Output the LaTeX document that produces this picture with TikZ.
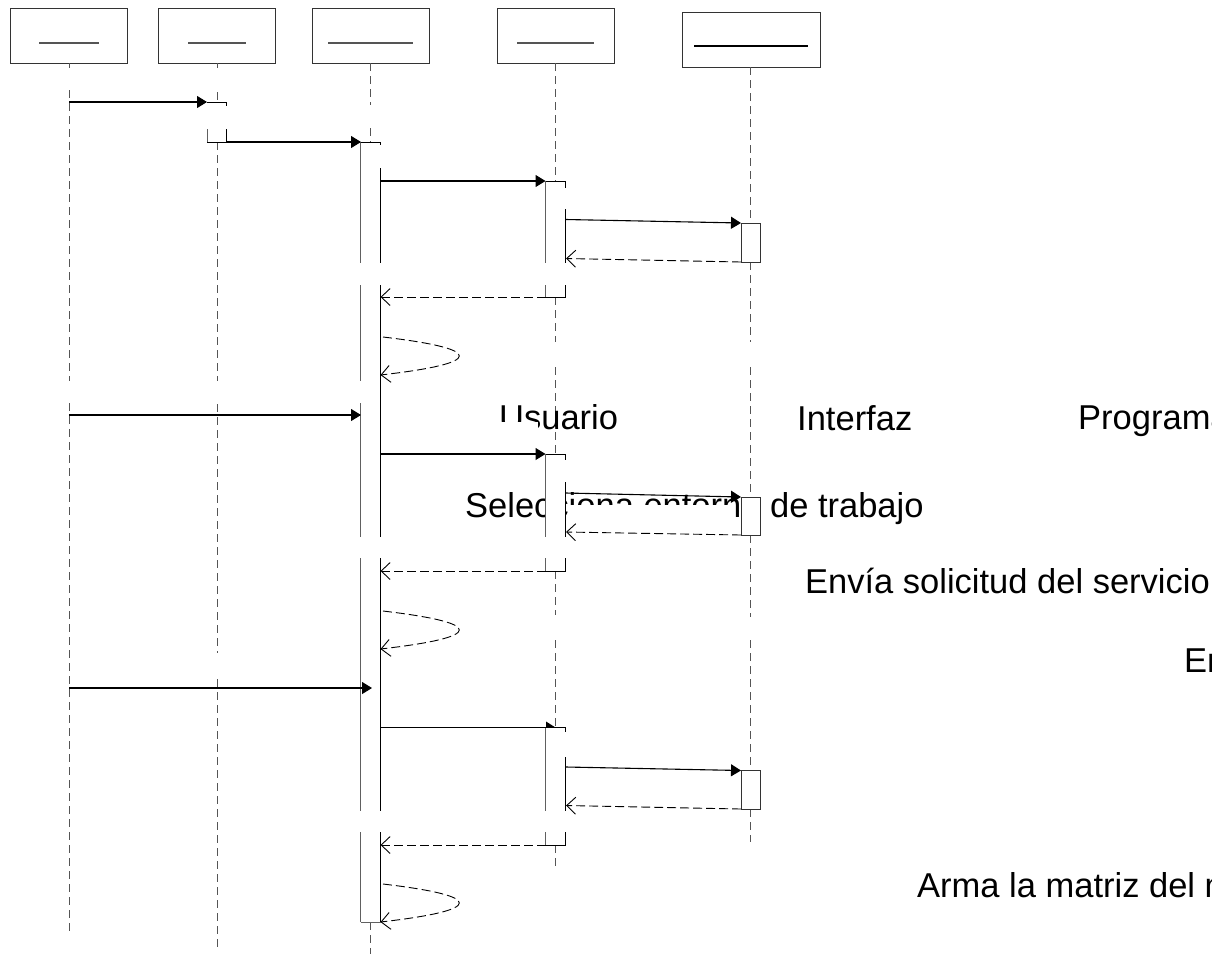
\documentclass[tikz,border=0pt]{standalone}
\usepackage{fontspec}
\setmainfont{Liberation Sans}
\usetikzlibrary{arrows.meta}
\definecolor{lifegray}{HTML}{555555}
\definecolor{edgegray}{HTML}{333333}
\definecolor{leftgray}{HTML}{606060}
\begin{document}
\begin{tikzpicture}[x=1pt,y=-1pt,
  headbox/.style={draw=edgegray, line width=1pt, fill=white, inner sep=0pt, minimum height=55pt},
  nameline/.style={draw=lifegray, line width=1.2pt},
  lifeline/.style={draw=lifegray, line width=1pt, dash pattern=on 8pt off 5pt},
  baredge/.style={draw=black, line width=1pt},
  barleft/.style={draw=leftgray, line width=1pt},
  msg/.style={draw=black, line width=1.1pt, -{Triangle[length=10pt,width=12pt]}},
  plainmsg/.style={draw=black, line width=1.1pt},
  ret/.style={draw=black, line width=0.9pt, dash pattern=on 9pt off 4pt, -{Straight Barb[length=9pt,width=17pt]}},
  lbl/.style={font=\fontsize{34.5}{40}\selectfont, anchor=base west, inner sep=0pt},
  hide/.style={fill=white, draw=none}
]
\useasboundingbox (0,0) rectangle (1212,954);
\fill[white] (0,0) rectangle (1212,954);

% ---------- head boxes ----------
\node[headbox, minimum width=117pt] (b1) at (68.5,35.5) {};
\node[headbox, minimum width=117pt] (b2) at (216.5,35.5) {};
\node[headbox, minimum width=117pt] (b3) at (370.5,35.5) {};
\node[headbox, minimum width=117pt] (b4) at (555.5,35.5) {};
\node[headbox, minimum width=138pt] (b5) at (751,39.5) {};
\draw[nameline] (39,43) -- (99,43);
\draw[nameline] (188,43) -- (246,43);
\draw[nameline] (328,43) -- (413,43);
\draw[nameline] (517,43) -- (594,43);
\draw[line width=1.2pt] (694,46) -- (808,46);

% ---------- lifelines ----------
% L1
\draw[lifeline] (69,63) -- (69,68);
\draw[lifeline] (69,90) -- (69,381);
\draw[lifeline] (69,403) -- (69,932);
% L2
\draw[lifeline] (217,63) -- (217,68);
\draw[lifeline] (217,92) -- (217,102);
\draw[lifeline] (217,142) -- (217,381);
\draw[lifeline] (217,404) -- (217,653);
\draw[lifeline] (217,679) -- (217,950);
% L3
\draw[lifeline] (370.5,63) -- (370.5,105);
\draw[lifeline] (370.5,128) -- (370.5,142);
\draw[lifeline] (370.5,922) -- (370.5,954);
% L4
\draw[lifeline] (555.5,63) -- (555.5,181);
\draw[lifeline] (555.5,297) -- (555.5,342);
\draw[lifeline] (555.5,367) -- (555.5,454);
\draw[lifeline] (555.5,571) -- (555.5,615);
\draw[lifeline] (555.5,640) -- (555.5,727);
\draw[lifeline] (555.5,845) -- (555.5,870);
% L5
\draw[lifeline] (750.5,67) -- (750.5,223);
\draw[lifeline] (750.5,262) -- (750.5,342);
\draw[lifeline] (750.5,367) -- (750.5,497);
\draw[lifeline] (750.5,535) -- (750.5,617);
\draw[lifeline] (750.5,640) -- (750.5,770);
\draw[lifeline] (750.5,809) -- (750.5,842);

% ---------- texts ----------
\node[lbl] (tUsuario) at (499,429) {Usuario};
\node[lbl] (tInterfaz) at (797,430) {Interfaz};
\node[lbl] (tPrograma) at (1078,429) {Programa};
\node[lbl] (tSel) at (465,517) {Selecciona entorno de trabajo};
\node[lbl] (tEnv) at (805,593) {Envía solicitud del servicio};
\node[lbl] (tEn) at (1184,672) {En};
\node[lbl] (tArma) at (917,897) {Arma la matriz del m};
\fill[hide] (495,422) rectangle (538,437);
\fill[hide] (568,505) rectangle (735,526);

% ---------- activation bars ----------
% L2
\fill[white] (207,102) rectangle (226,142);
\draw[baredge] (207,102) -- (226,102) -- (226,106);
\draw[baredge] (226,129) -- (226,142) -- (207,142);
\draw[barleft] (207,129) -- (207,142);
% L3
\fill[white] (360.5,142) rectangle (380.5,922);
\draw[baredge] (360.5,142) -- (380.5,142) -- (380.5,145);
\foreach \a/\b in {142/263, 285/381, 403/537, 558/811, 832/922}
  \draw[barleft] (360.5,\a) -- (360.5,\b);
\foreach \a/\b in {168/263, 285/537, 558/811, 832/922}
  \draw[baredge] (380.5,\a) -- (380.5,\b);
\draw[barleft] (360.5,922) -- (380.5,922);
% L4 bars
\fill[white] (545.5,181) rectangle (565.5,297);
\fill[white] (545.5,454) rectangle (565.5,571);
\fill[white] (545.5,727.5) rectangle (565.5,845);
\draw[baredge] (545.5,181) -- (565.5,181) -- (565.5,188);
\foreach \a/\b in {181/263, 285/297}
  \draw[barleft] (545.5,\a) -- (545.5,\b);
\foreach \a/\b in {209/263, 285/297}
  \draw[baredge] (565.5,\a) -- (565.5,\b);
\draw[baredge] (545.5,297) -- (565.5,297);
\draw[baredge] (545.5,454) -- (565.5,454) -- (565.5,460);
\foreach \a/\b in {454/537, 558/571}
  \draw[barleft] (545.5,\a) -- (545.5,\b);
\foreach \a/\b in {482/537, 558/571}
  \draw[baredge] (565.5,\a) -- (565.5,\b);
\draw[baredge] (545.5,571) -- (565.5,571);
\draw[baredge] (545.5,727.5) -- (565.5,727.5) -- (565.5,732);
\foreach \a/\b in {727.5/811, 832/845}
  \draw[barleft] (545.5,\a) -- (545.5,\b);
\foreach \a/\b in {757/811, 832/845}
  \draw[baredge] (565.5,\a) -- (565.5,\b);
\draw[baredge] (545.5,845) -- (565.5,845);
% L5 bars
\draw[draw=edgegray, line width=1pt, fill=white] (741,223) rectangle (760.5,262);
\draw[draw=edgegray, line width=1pt, fill=white] (741,497) rectangle (760.5,535);
\draw[draw=edgegray, line width=1pt, fill=white] (741,770.5) rectangle (760.5,809);

% ---------- message end points ----------
\coordinate (a1s) at (69,102);    \coordinate (a1e) at (207,102);
\coordinate (a2s) at (226,142);   \coordinate (a2e) at (361,142);
\coordinate (a3s) at (380.5,181); \coordinate (a3e) at (545.5,181);
\coordinate (a4s) at (566,219.5); \coordinate (a4e) at (741,223);
\coordinate (r1s) at (741,262);   \coordinate (r1e) at (566,258.5);
\coordinate (r2s) at (545.5,297); \coordinate (r2e) at (380.5,297);
\coordinate (s1s) at (383,337);   \coordinate (s1e) at (380.5,375);
\coordinate (b1s) at (69,415);    \coordinate (b1e) at (361,415);
\coordinate (b2s) at (380.5,454); \coordinate (b2e) at (545.5,454);
\coordinate (b3s) at (566,493);   \coordinate (b3e) at (741,497);
\coordinate (q1s) at (741,535);   \coordinate (q1e) at (566,532);
\coordinate (q2s) at (545.5,571); \coordinate (q2e) at (380.5,571);
\coordinate (s2s) at (383,611);   \coordinate (s2e) at (380.5,649);
\coordinate (c1s) at (69,688);    \coordinate (c1e) at (372,688);
\coordinate (c2s) at (380.5,727.5); \coordinate (c2e) at (545.5,727.5);
\coordinate (c3s) at (566,767);   \coordinate (c3e) at (741,770.5);
\coordinate (p1s) at (741,809);   \coordinate (p1e) at (566,805.5);
\coordinate (p2s) at (545.5,845); \coordinate (p2e) at (380.5,845);
\coordinate (s3s) at (383,884);   \coordinate (s3e) at (380.5,922);

% ---------- messages ----------
\draw[msg] (a1s) -- (a1e);
\draw[msg] (a2s) -- (a2e);
\draw[msg] (a3s) -- (a3e);
\draw[msg] (a4s) -- (a4e);
\draw[ret] (r1s) -- (r1e);
\draw[ret] (r2s) -- (r2e);
\draw[ret] (s1s) .. controls (485,349) and (485,363) .. (s1e);

\draw[msg] (b1s) -- (b1e);
\draw[msg] (b2s) -- (b2e);
\draw[msg] (b3s) -- (b3e);
\draw[ret] (q1s) -- (q1e);
\draw[ret] (q2s) -- (q2e);
\draw[ret] (s2s) .. controls (485,623) and (485,637) .. (s2e);

\draw[msg] (c1s) -- (c1e);
\draw[plainmsg] (c2s) -- (c2e);
\fill[black] (546,721.5) -- (555.5,727.5) -- (546,727.5) -- cycle;
\draw[msg] (c3s) -- (c3e);
\draw[ret] (p1s) -- (p1e);
\draw[ret] (p2s) -- (p2e);
\draw[ret] (s3s) .. controls (485,896) and (485,910) .. (s3e);
\end{tikzpicture}
\end{document}
